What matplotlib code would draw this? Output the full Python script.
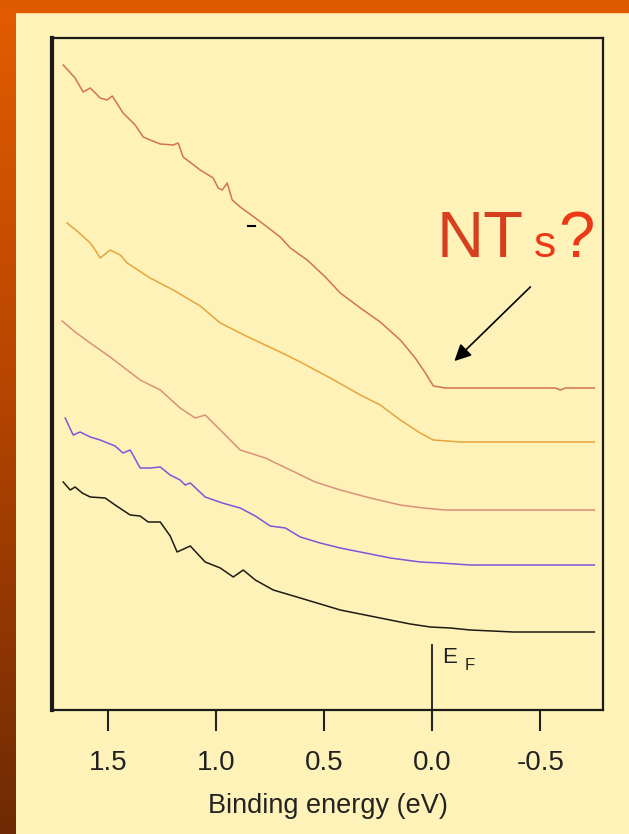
import numpy as np
import matplotlib
matplotlib.use("Agg")
import matplotlib.pyplot as plt
from matplotlib.patches import Rectangle

# photoemission spectra, binding energy (eV) vs intensity (arb. units)
E_NT = [1.708, 1.653, 1.616, 1.583, 1.537, 1.505, 1.481, 1.431, 1.375, 1.338, 1.306,
        1.259, 1.199, 1.176, 1.153, 1.074, 1.014, 0.991, 0.972, 0.949, 0.926, 0.889,
        0.819, 0.764, 0.704, 0.657, 0.579, 0.495, 0.426, 0.333, 0.241, 0.148, 0.079,
        0.032, -0.005, -0.06, -0.569, -0.593, -0.616, -0.75]
I_NT = [6.45, 6.32, 6.18, 6.22, 6.12, 6.10, 6.14, 5.97, 5.85, 5.73, 5.70,
        5.66, 5.65, 5.67, 5.53, 5.40, 5.32, 5.22, 5.20, 5.27, 5.10, 5.03,
        4.92, 4.83, 4.73, 4.62, 4.50, 4.33, 4.17, 4.02, 3.88, 3.70, 3.52,
        3.37, 3.24, 3.22, 3.22, 3.20, 3.22, 3.22]

E_2 = [1.690, 1.639, 1.583, 1.560, 1.537, 1.491, 1.444, 1.412, 1.306, 1.199, 1.074,
       0.981, 0.843, 0.704, 0.611, 0.472, 0.333, 0.241, 0.148, 0.056, -0.005, -0.13, -0.75]
I_2 = [4.87, 4.78, 4.67, 4.60, 4.52, 4.60, 4.55, 4.47, 4.32, 4.20, 4.04,
       3.87, 3.72, 3.58, 3.48, 3.32, 3.15, 3.05, 2.90, 2.77, 2.70, 2.68, 2.68]

E_3 = [1.713, 1.653, 1.583, 1.491, 1.352, 1.259, 1.167, 1.097, 1.051, 0.981, 0.889,
       0.773, 0.657, 0.542, 0.426, 0.287, 0.148, 0.042, -0.06, -0.75]
I_3 = [3.89, 3.78, 3.67, 3.53, 3.30, 3.20, 3.02, 2.92, 2.95, 2.80, 2.60,
       2.52, 2.40, 2.28, 2.20, 2.12, 2.05, 2.02, 2.00, 2.00]

E_4 = [1.699, 1.662, 1.630, 1.583, 1.537, 1.468, 1.431, 1.398, 1.352, 1.306, 1.259,
       1.213, 1.167, 1.144, 1.120, 1.051, 0.972, 0.889, 0.819, 0.750, 0.680, 0.611,
       0.519, 0.426, 0.310, 0.194, 0.056, -0.037, -0.176, -0.75]
I_4 = [2.92, 2.75, 2.78, 2.73, 2.70, 2.64, 2.57, 2.60, 2.42, 2.42, 2.43,
       2.35, 2.30, 2.25, 2.27, 2.13, 2.07, 2.02, 1.94, 1.84, 1.82, 1.73,
       1.67, 1.62, 1.57, 1.52, 1.48, 1.47, 1.45, 1.45]

E_5 = [1.708, 1.676, 1.653, 1.620, 1.583, 1.514, 1.468, 1.398, 1.352, 1.315, 1.259,
       1.213, 1.181, 1.120, 1.051, 0.981, 0.921, 0.875, 0.819, 0.736, 0.611, 0.426,
       0.241, 0.102, 0.009, -0.083, -0.176, -0.375, -0.75]
I_5 = [2.28, 2.20, 2.23, 2.17, 2.13, 2.12, 2.05, 1.95, 1.94, 1.88, 1.88,
       1.74, 1.58, 1.64, 1.48, 1.42, 1.33, 1.40, 1.30, 1.20, 1.12, 1.00,
       0.92, 0.86, 0.83, 0.82, 0.80, 0.78, 0.78]

SPECTRA = [(E_NT, I_NT, "#d2744e"), (E_2, I_2, "#e6a43c"), (E_3, I_3, "#d9907c"),
           (E_4, I_4, "#8552d8"), (E_5, I_5, "#1e1a14")]

TICKS = [1.5, 1.0, 0.5, 0.0, -0.5]
TICK_LABELS = ["1.5", "1.0", "0.5", "0.0", "-0.5"]

BG = "#fff2b8"
FONT = ["Liberation Sans", "DejaVu Sans"]

fig = plt.figure(figsize=(6.29, 8.34), dpi=100, facecolor=BG)

# orange/brown border on the slide
grad = fig.add_axes([0, 0, 16 / 629, 1])
cols = np.linspace(0, 1, 256).reshape(-1, 1)
cmap = matplotlib.colors.LinearSegmentedColormap.from_list("edge", ["#e45c00", "#b24300", "#6e2a05"])
grad.imshow(cols, aspect="auto", cmap=cmap, extent=[0, 1, 0, 1])
grad.axis("off")
fig.patches.append(Rectangle((0, 1 - 12 / 834), 1, 12 / 834, transform=fig.transFigure,
                             color="#e05a00", zorder=5))

ax = fig.add_axes([52 / 629, 124 / 834, 551 / 629, 672 / 834])
ax.set_facecolor(BG)

for e, i, c in SPECTRA:
    ax.plot(e, i, color=c, lw=1.1)

# small stray mark in the original
ax.plot([0.855, 0.82], [4.84, 4.84], color="black", lw=1.5)

ax.set_xlim(1.76, -0.79)
ax.set_ylim(0, 6.72)
ax.set_xticks(TICKS)
ax.set_xticklabels(TICK_LABELS, fontsize=20, family=FONT)
ax.set_yticks([])
ax.tick_params(axis="x", direction="out", length=15, width=1.5, pad=14, colors="#222222")
for side, w in [("left", 3.0), ("right", 1.6), ("top", 1.6), ("bottom", 1.6)]:
    ax.spines[side].set_linewidth(w)
    ax.spines[side].set_color("#1a1a1a")
ax.set_xlabel("Binding energy (eV)", fontsize=19.5, family=FONT, labelpad=12, color="#222222")

# Fermi level marker
ax.plot([0, 0], [0, 0.65], color="#1a1a1a", lw=1.3)
ax.text(-0.045, 0.47, "E", fontsize=16, family=FONT, color="#222222")
ax.text(-0.15, 0.40, "F", fontsize=12, family=FONT, color="#222222")

# "NTs?" label, lower-case s set smaller
ax.text(-0.019, 4.53, "NT", fontsize=47, family=FONT, color="#d6401e", va="baseline")
ax.text(-0.468, 4.53, "s", fontsize=32, family=FONT, color="#ec3814", va="baseline")
ax.text(-0.583, 4.53, "?", fontsize=47, family=FONT, color="#ec3814", va="baseline")
ax.annotate("", xy=(-0.093, 3.47), xytext=(-0.463, 4.25),
            arrowprops=dict(arrowstyle="-|>,head_length=1.0,head_width=0.5", color="black", lw=1.2))

fig.savefig("out.png", dpi=100, facecolor=BG)
